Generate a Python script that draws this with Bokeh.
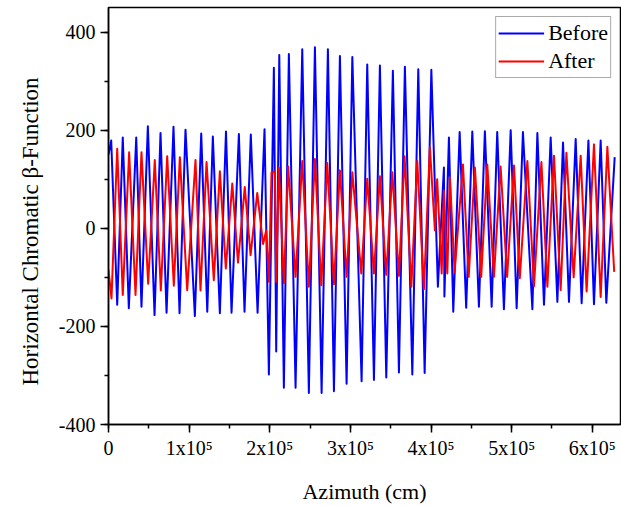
from bokeh.plotting import figure
from bokeh.embed import file_html
from bokeh.resources import INLINE
from bokeh.models import (Range1d, SingleIntervalTicker, CustomJSTickFormatter,
                          Legend, LegendItem, Title)

# ---- data (azimuth in cm, chromatic beta function) ----
before_x = [0, 3350, 10800, 17700, 25200, 34400, 40900, 48800, 57100, 64500, 72000,
            80600, 88100, 95500, 107100, 115000, 122500, 129400, 138100, 145700,
            152600, 161700, 168700, 176500, 184900, 193500, 198900, 205100, 208000,
            211800, 217500, 223700, 232000, 240300, 248500, 256000, 264300, 272100,
            279600, 287000, 295300, 302400, 313900, 320900, 329200, 336600, 344500,
            352700, 360200, 367600, 376800, 384200, 392100, 400400, 408500, 416000,
            416600, 422200, 427600, 435500, 443600, 451200, 459400, 466800, 475200,
            482100, 490400, 498800, 506200, 514000, 525700, 531900, 540100, 548400,
            556700, 563700, 571100, 579400, 586800, 595200, 602100, 610400, 617400,
            627800]
before_y = [150, 179, -156, 185, -163, 185, -160, 208, -177, 194, -172,
            207, -173, 201, -179, 193, -170, 187, -173, 197,
            -172, 192, -170, 191, -172, 202, -298, 327, -251,
            353, -325, 355, -325, 365, -336, 369, -336, 365,
            -332, 351, -317, 349, -312, 334, -309, 332, -304,
            321, -294, 329, -298, 324, -295, 323, -119, 124,
            -139, 185, -170, 196, -162, 197, -160, 198, -160,
            196, -165, 200, -163, 196, -165, 194, -156, 185,
            -150, 175, -150, 182, -153, 179, -155, 179, -152,
            145]

after_x = [0, 3700, 10800, 17700, 25600, 33500, 40900, 49200, 57400, 64900, 72800,
           81000, 88500, 97600, 107900, 114100, 121600, 130600, 138100, 145500,
           153500, 160600, 169000, 176200, 184500, 191700, 195700, 198900, 202200,
           206300, 208000, 211300, 217500, 222800, 232000, 240300, 248500, 256000,
           263900, 271300, 279600, 287000, 295300, 302400, 313500, 320900, 329200,
           336600, 344500, 352000, 360200, 367200, 375600, 382900, 391200, 398600,
           404800, 407600, 413200, 416000, 420200, 423400, 429300, 439600, 446700,
           454400, 462200, 469800, 478000, 486300, 494400, 502900, 510100, 519500,
           527700, 536900, 544300, 552500, 560800, 567900, 576900, 585600, 593000,
           602100, 610400, 618700, 627200]
after_y = [-85, -143, 162, -136, 155, -136, 155, -113, 139, -127, 147,
           -117, 145, -126, 139, -127, 135, -106, 116, -82,
           91, -70, 84, -55, 72, -32, -4, -109, 114,
           116, -109, 124, -112, 126, -99, 137, -119, 141,
           -116, 133, -114, 118, -99, 114, -92, 101, -92,
           106, -95, 114, -97, 147, -119, 137, -124, 165,
           -4, 100, -92, 77, -92, 104, -89, 130, -99,
           124, -99, 130, -99, 126, -99, 128, -102, 137,
           -118, 135, -119, 148, -126, 154, -100, 148, -129,
           171, -140, 166, -89]

series_names = ["Before", "After"]
series_colors = ["#0000ff", "#ff0000"]
x_label = "Azimuth (cm)"
y_label = "Horizontal Chromatic \u03b2-Function"

FONT = "Liberation Serif"

p = figure(width=621, height=506, output_backend="svg", toolbar_location=None,
           x_range=Range1d(0, 635000), y_range=Range1d(-400, 450),
           min_border_left=108, min_border_right=1, min_border_top=7,
           min_border_bottom=82)

p.outline_line_color = "black"
p.outline_line_width = 1.5
p.xgrid.visible = False
p.ygrid.visible = False
p.background_fill_color = "white"
p.border_fill_color = "white"

l1 = p.line(before_x, before_y, line_color=series_colors[0], line_width=2,
            line_join="round")
l2 = p.line(after_x, after_y, line_color=series_colors[1], line_width=2,
            line_join="round")

legend = Legend(items=[LegendItem(label=series_names[0], renderers=[l1]),
                       LegendItem(label=series_names[1], renderers=[l2])],
                location="top_right")
legend.label_text_font = FONT
legend.label_text_font_size = "22px"
legend.label_text_color = "black"
legend.border_line_color = "#555555"
legend.border_line_width = 1
legend.glyph_width = 46
legend.glyph_height = 28
legend.label_height = 28
legend.spacing = 0
legend.padding = 2
legend.margin = 9
legend.label_standoff = 4
legend.background_fill_alpha = 1
p.add_layout(legend)

# axes
p.xaxis.ticker = SingleIntervalTicker(interval=100000, num_minor_ticks=2)
p.yaxis.ticker = SingleIntervalTicker(interval=200, num_minor_ticks=2)
p.xaxis.formatter = CustomJSTickFormatter(code="""
    if (tick == 0) { return "0"; }
    return (tick / 100000).toFixed(0) + "x10\u2075";
""")
p.yaxis.formatter = CustomJSTickFormatter(code="return tick.toFixed(0);")
for ax in (p.xaxis[0], p.yaxis[0]):
    ax.axis_line_width = 1.5
    ax.axis_line_color = "black"
    ax.major_tick_line_width = 1.5
    ax.minor_tick_line_width = 1.5
    ax.major_tick_in = 0
    ax.major_tick_out = 8
    ax.minor_tick_in = 0
    ax.minor_tick_out = 4
    ax.major_label_text_font = FONT
    ax.major_label_text_font_size = "20px"
    ax.major_label_text_color = "black"
    ax.axis_label_text_font = FONT
    ax.axis_label_text_font_size = "22px"
    ax.axis_label_text_font_style = "normal"
    ax.axis_label_text_color = "black"

p.xaxis.axis_label = x_label
p.xaxis.major_label_standoff = 4
p.xaxis.axis_label_standoff = 17
p.yaxis.major_label_standoff = 5

# y-axis title, placed as in the reference (a little below centre)
ytitle = Title(text=y_label, align="left", offset=39, standoff=26,
               text_font=FONT, text_font_size="23px",
               text_font_style="normal", text_color="black")
p.add_layout(ytitle, "left")

open("out.html", "w").write(file_html(p, INLINE))
